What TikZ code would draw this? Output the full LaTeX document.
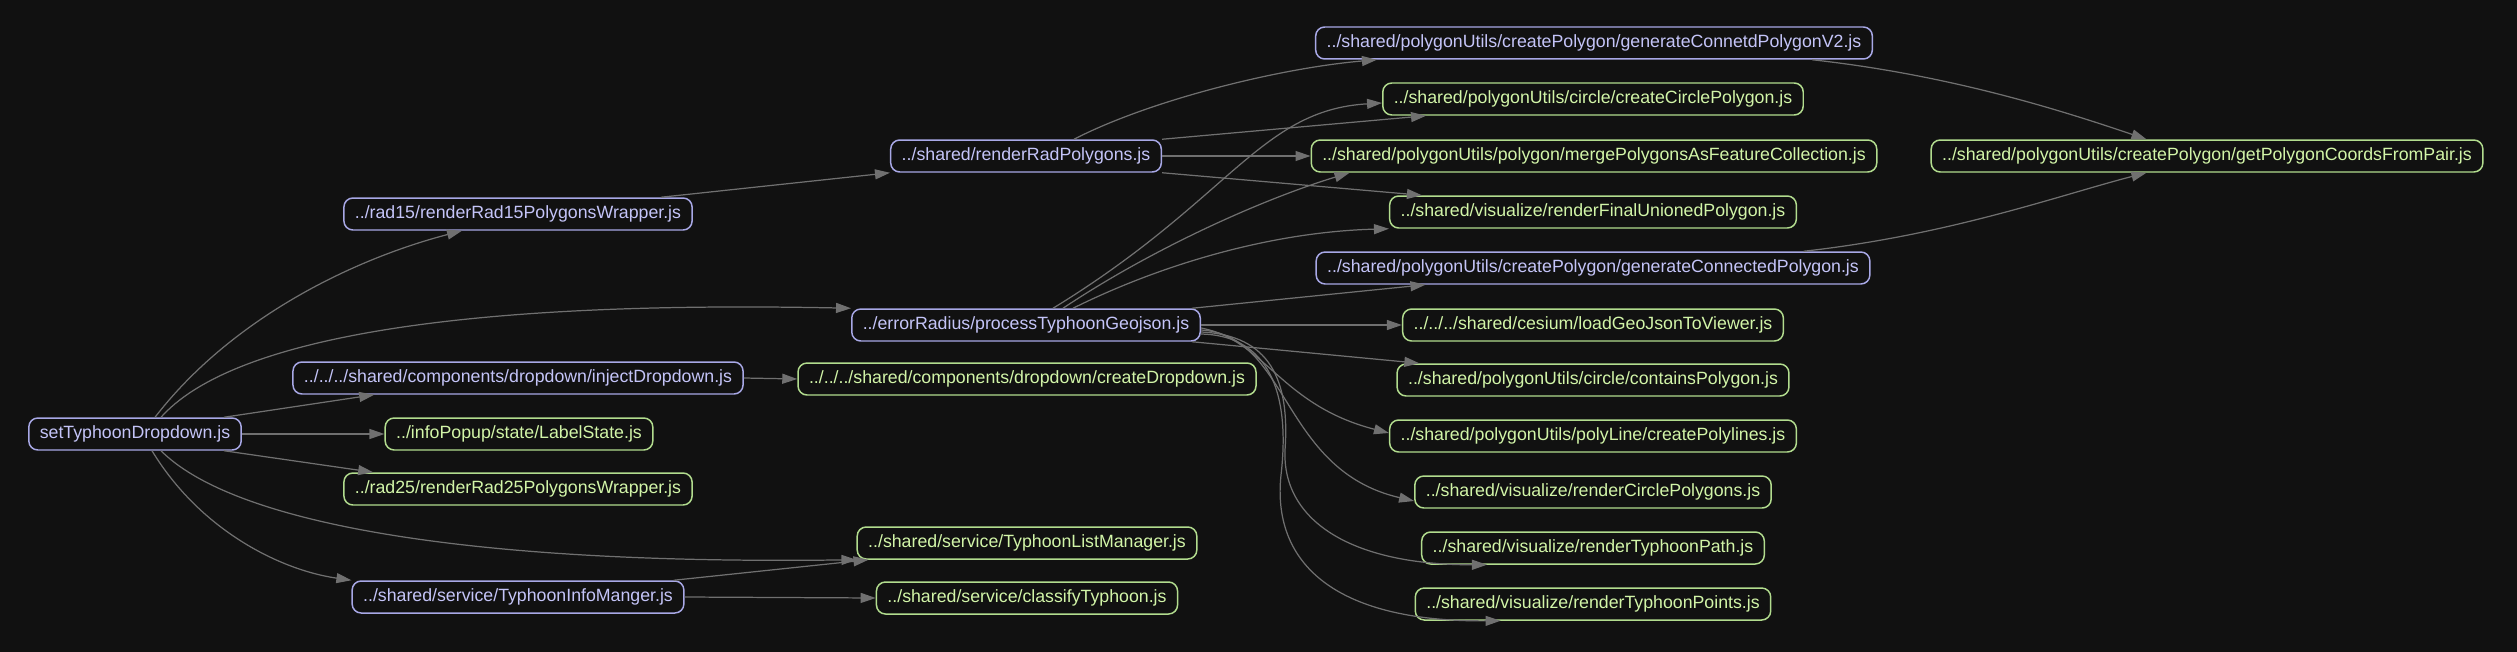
\documentclass[tikz,border=0pt]{standalone}
\usepackage{fontspec}
\setmainfont{Liberation Sans}
\definecolor{depbg}{HTML}{111111}
\definecolor{deplilac}{HTML}{C4C4F8}
\definecolor{deplilacline}{HTML}{A8A8E6}
\definecolor{depgreen}{HTML}{D2F5A8}
\definecolor{depgreenline}{HTML}{B2DC8E}
\definecolor{depedge}{HTML}{707070}
\usetikzlibrary{arrows.meta,calc}

\begin{document}
\begin{tikzpicture}[x=0.02cm, y=-0.02cm,
  file/.style={rounded corners=0.18cm, line width=0.85pt, fill=depbg, minimum height=0.64cm,
    inner xsep=0.22cm, inner ysep=0pt, font=\fontsize{10.1}{12}\selectfont},
  lilacfile/.style={file, draw=deplilacline, text=deplilac},
  greenfile/.style={file, draw=depgreenline, text=depgreen},
  dep/.style={draw=depedge, line width=0.7pt, -{Triangle[length=0.3cm, width=0.2cm]}}]
  \fill[depbg] (0,0) rectangle (2517,652);
  \useasboundingbox (0,0) rectangle (2517,652);

  % Entry file
  \node[lilacfile] (S) at (135,434) {setTyphoonDropdown.js};

  % Column 1
  \node[lilacfile] (R15) at (518,214) {../rad15/renderRad15PolygonsWrapper.js};
  \node[lilacfile] (INJ) at (518,378) {../../../shared/components/dropdown/injectDropdown.js};
  \node[greenfile] (LBL) at (519,434) {../infoPopup/state/LabelState.js};
  \node[greenfile] (R25) at (518,489) {../rad25/renderRad25PolygonsWrapper.js};
  \node[lilacfile] (TIM) at (518,597) {../shared/service/TyphoonInfoManger.js};

  % Column 2
  \node[lilacfile] (RRP) at (1026,156) {../shared/renderRadPolygons.js};
  \node[lilacfile] (PTG) at (1026,325) {../errorRadius/processTyphoonGeojson.js};
  \node[greenfile] (CDD) at (1027,379) {../../../shared/components/dropdown/createDropdown.js};
  \node[greenfile] (TLM) at (1027,543) {../shared/service/TyphoonListManager.js};
  \node[greenfile] (CLS) at (1027,598) {../shared/service/classifyTyphoon.js};

  % Column 3
  \node[lilacfile] (GV2) at (1594,43) {../shared/polygonUtils/createPolygon/generateConnetdPolygonV2.js};
  \node[greenfile] (CCP) at (1593,99) {../shared/polygonUtils/circle/createCirclePolygon.js};
  \node[greenfile] (MPF) at (1594,156) {../shared/polygonUtils/polygon/mergePolygonsAsFeatureCollection.js};
  \node[greenfile] (RFU) at (1593,212) {../shared/visualize/renderFinalUnionedPolygon.js};
  \node[lilacfile] (GCP) at (1593,268) {../shared/polygonUtils/createPolygon/generateConnectedPolygon.js};
  \node[greenfile] (LGJ) at (1593,325) {../../../shared/cesium/loadGeoJsonToViewer.js};
  \node[greenfile] (CTP) at (1593,380) {../shared/polygonUtils/circle/containsPolygon.js};
  \node[greenfile] (CPL) at (1593,436) {../shared/polygonUtils/polyLine/createPolylines.js};
  \node[greenfile] (RCP) at (1593,492) {../shared/visualize/renderCirclePolygons.js};
  \node[greenfile] (RTP) at (1593,548) {../shared/visualize/renderTyphoonPath.js};
  \node[greenfile] (RTT) at (1593,604) {../shared/visualize/renderTyphoonPoints.js};

  % Column 4
  \node[greenfile] (GPC) at (2207,156) {../shared/polygonUtils/createPolygon/getPolygonCoordsFromPair.js};

  % Edges from setTyphoonDropdown
  \draw[dep] ($(S.north)+(20,0)$) .. controls (230,320) and (350,260) .. ($(R15.south)+(-56,0)$);
  \draw[dep] ($(S.north)+(26,0)$) .. controls (230,340) and (450,300) .. (PTG.north west);
  \draw[dep] ($(S.north east)+(-18,0)$) -- ($(INJ.south west)+(82,0)$);
  \draw[dep] (S.east) -- (LBL.west);
  \draw[dep] ($(S.south east)+(-18,0)$) -- ($(R25.north west)+(30,0)$);
  \draw[dep] ($(S.south)+(26,0)$) .. controls (230,520) and (450,565) .. (TLM.south west);
  \draw[dep] ($(S.south)+(17,0)$) .. controls (200,530) and (280,570) .. (TIM.north west);

  % Edges from column 1
  \draw[dep] ($(R15.north east)+(-32,0)$) -- (RRP.south west);
  \draw[dep] (INJ.east) -- (CDD.west);
  \draw[dep] ($(TIM.north east)+(-11,0)$) -- ($(TLM.south west)+(12,0)$);
  \draw[dep] (TIM.east) -- (CLS.west);

  % Edges from renderRadPolygons
  \draw[dep] ($(RRP.north)+(48,0)$) .. controls (1150,100) and (1280,68) .. ($(GV2.south west)+(62,0)$);
  \draw[dep] (RRP.north east) -- ($(CCP.south west)+(44,0)$);
  \draw[dep] (RRP.east) -- (MPF.west);
  \draw[dep] (RRP.south east) -- ($(RFU.north west)+(33,0)$);

  % Edges from processTyphoonGeojson
  \draw[dep] ($(PTG.north)+(27,0)$) .. controls (1230,200) and (1260,110) .. ($(CCP.west)+(0,4)$);
  \draw[dep] ($(PTG.north)+(37,0)$) .. controls (1150,250) and (1260,200) .. ($(MPF.south west)+(39,0)$);
  \draw[dep] ($(PTG.north)+(47,0)$) .. controls (1160,265) and (1270,232) .. (RFU.south west);
  \draw[dep] ($(PTG.north east)+(-9,0)$) -- ($(GCP.south west)+(110,0)$);
  \draw[dep] (PTG.east) -- (LGJ.west);
  \draw[dep] ($(PTG.south east)+(-9,0)$) -- ($(CTP.north west)+(23,0)$);
  \draw[dep] ($(PTG.east)+(0,3)$) .. controls (1265,340) and (1280,405) .. ($(CPL.west)+(0,-3)$);
  \draw[dep] ($(PTG.east)+(0,5)$) .. controls (1290,335) and (1280,470) .. ($(RCP.west)+(0,9)$);
  \draw[dep] ($(PTG.east)+(0,7)$) .. controls (1270,335) and (1290,380) .. (1285,450)
    .. controls (1282,520) and (1350,565) .. ($(RTP.south west)+(66,0)$);
  \draw[dep] ($(PTG.east)+(0,9)$) .. controls (1260,335) and (1292,380) .. (1281,475)
    .. controls (1272,560) and (1330,622) .. ($(RTT.south west)+(86,0)$);

  % Edges into getPolygonCoordsFromPair
  \draw[dep] ($(GV2.south east)+(-61,0)$) .. controls (1950,75) and (2060,110) .. ($(GPC.north west)+(216,0)$);
  \draw[dep] ($(GCP.north east)+(-67,0)$) .. controls (1950,235) and (2060,195) .. ($(GPC.south west)+(216,0)$);
\end{tikzpicture}
\end{document}
